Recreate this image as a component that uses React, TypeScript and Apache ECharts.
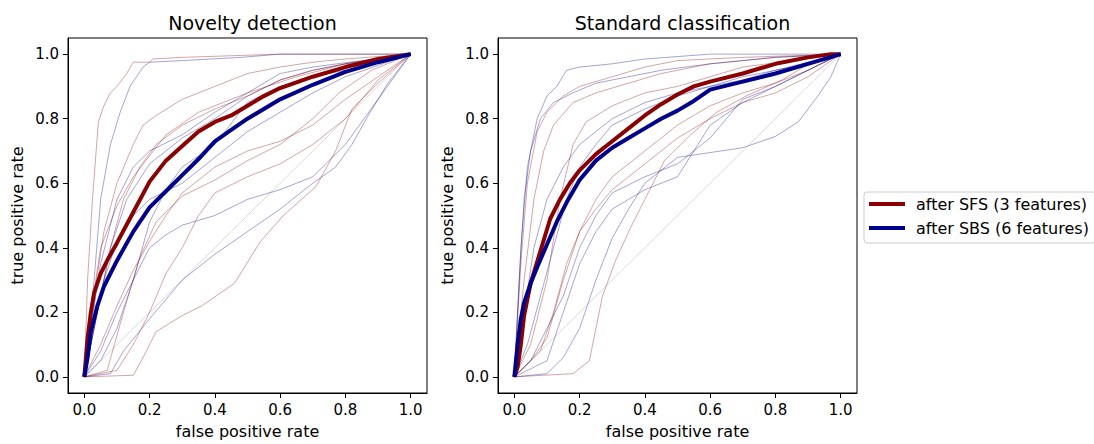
import React, { useEffect, useRef } from "react";
import * as echarts from "echarts";

// ---------- data ----------
const tickValues = [0, 0.2, 0.4, 0.6, 0.8, 1.0];
const panelTitles = ["Novelty detection", "Standard classification"];
const legendNames = ["after SFS (3 features)", "after SBS (6 features)"];
const diagonal = [[0, 0], [1, 1]];

// Novelty detection – mean curves
const nRedMean = [[0,0],[0.01,0.12],[0.02,0.2],[0.03,0.26],[0.05,0.32],[0.075,0.37],[0.1,0.415],[0.15,0.51],[0.2,0.605],[0.25,0.67],[0.3,0.715],[0.35,0.76],[0.4,0.79],[0.45,0.81],[0.5,0.84],[0.55,0.87],[0.6,0.895],[0.7,0.93],[0.8,0.96],[0.9,0.985],[1,1]];
const nBlueMean = [[0,0],[0.01,0.06],[0.02,0.14],[0.04,0.22],[0.06,0.28],[0.1,0.36],[0.15,0.45],[0.2,0.525],[0.25,0.575],[0.3,0.625],[0.35,0.675],[0.4,0.73],[0.45,0.765],[0.5,0.8],[0.6,0.86],[0.7,0.905],[0.8,0.945],[0.9,0.975],[1,1]];
// Novelty detection – individual curves
const nRed1 = [[0,0],[0.01,0.3],[0.025,0.55],[0.043,0.79],[0.06,0.84],[0.08,0.88],[0.1,0.9],[0.13,0.94],[0.15,0.975],[0.2,0.975],[0.21,0.985],[0.3,0.99],[0.6,1],[1,1]];
const nRed2 = [[0,0],[0.03,0.25],[0.06,0.45],[0.1,0.6],[0.15,0.72],[0.18,0.78],[0.22,0.81],[0.3,0.86],[0.4,0.9],[0.5,0.94],[0.6,0.96],[0.7,0.975],[0.8,0.985],[1,1]];
const nRed3 = [[0,0],[0.04,0.2],[0.08,0.4],[0.12,0.55],[0.17,0.65],[0.22,0.72],[0.3,0.78],[0.4,0.83],[0.5,0.87],[0.6,0.92],[0.7,0.95],[0.8,0.97],[1,1]];
const nRed4 = [[0,0],[0.05,0.1],[0.1,0.22],[0.15,0.33],[0.2,0.42],[0.25,0.5],[0.3,0.57],[0.4,0.65],[0.5,0.7],[0.6,0.73],[0.7,0.78],[0.8,0.86],[0.9,0.93],[1,1]];
const nRed5 = [[0,0],[0.15,0.005],[0.18,0.06],[0.22,0.14],[0.3,0.19],[0.36,0.22],[0.46,0.29],[0.54,0.42],[0.61,0.5],[0.71,0.59],[0.77,0.7],[0.82,0.83],[0.9,0.91],[1,1]];
const nRed6 = [[0,0],[0.1,0.02],[0.15,0.1],[0.2,0.2],[0.25,0.32],[0.3,0.4],[0.35,0.5],[0.4,0.57],[0.5,0.62],[0.6,0.66],[0.7,0.72],[0.8,0.8],[0.9,0.92],[1,1]];
const nRed7 = [[0,0],[0.02,0.2],[0.05,0.4],[0.1,0.53],[0.15,0.62],[0.25,0.75],[0.35,0.82],[0.5,0.88],[0.65,0.93],[0.8,0.97],[1,1]];
const nRed8 = [[0,0],[0.07,0.02],[0.12,0.2],[0.17,0.37],[0.22,0.48],[0.3,0.56],[0.4,0.61],[0.5,0.67],[0.6,0.72],[0.7,0.8],[0.78,0.88],[0.88,0.95],[1,1]];
const nBlue1 = [[0,0],[0.03,0.3],[0.05,0.55],[0.08,0.72],[0.11,0.82],[0.14,0.9],[0.18,0.96],[0.2,0.975],[0.3,0.98],[0.48,0.99],[0.6,1],[1,1]];
const nBlue2 = [[0,0],[0.04,0.2],[0.08,0.4],[0.13,0.55],[0.2,0.66],[0.3,0.74],[0.4,0.8],[0.5,0.87],[0.6,0.92],[0.7,0.95],[0.8,0.97],[1,1]];
const nBlue3 = [[0,0],[0.05,0.05],[0.1,0.15],[0.15,0.3],[0.2,0.48],[0.25,0.58],[0.3,0.65],[0.4,0.72],[0.5,0.85],[0.6,0.9],[0.7,0.93],[0.85,0.96],[1,1]];
const nBlue4 = [[0,0],[0.05,0.08],[0.1,0.2],[0.15,0.3],[0.2,0.4],[0.25,0.44],[0.3,0.47],[0.4,0.5],[0.5,0.55],[0.6,0.58],[0.7,0.62],[0.8,0.72],[0.9,0.86],[1,1]];
const nBlue5 = [[0,0],[0.08,0.01],[0.12,0.08],[0.2,0.18],[0.3,0.3],[0.4,0.38],[0.5,0.45],[0.6,0.52],[0.7,0.6],[0.77,0.65],[0.82,0.72],[0.87,0.81],[0.93,0.91],[1,1]];
const nBlue6 = [[0,0],[0.03,0.15],[0.06,0.3],[0.1,0.42],[0.15,0.5],[0.2,0.55],[0.3,0.6],[0.4,0.68],[0.5,0.76],[0.6,0.82],[0.7,0.88],[0.8,0.93],[1,1]];
const nBlue7 = [[0,0],[0.02,0.15],[0.05,0.35],[0.1,0.55],[0.15,0.65],[0.2,0.7],[0.3,0.75],[0.4,0.82],[0.5,0.88],[0.6,0.94],[0.7,0.96],[0.85,0.98],[1,1]];

// Standard classification – mean curves
const sRedMean = [[0,0],[0.01,0.03],[0.02,0.1],[0.03,0.19],[0.05,0.29],[0.08,0.39],[0.11,0.49],[0.14,0.55],[0.17,0.6],[0.2,0.64],[0.25,0.69],[0.3,0.73],[0.35,0.77],[0.4,0.81],[0.45,0.845],[0.5,0.875],[0.55,0.9],[0.6,0.915],[0.7,0.94],[0.8,0.97],[0.9,0.99],[0.97,1],[1,1]];
const sBlueMean = [[0,0],[0.005,0.05],[0.01,0.1],[0.02,0.18],[0.03,0.23],[0.05,0.29],[0.07,0.34],[0.1,0.41],[0.13,0.48],[0.16,0.54],[0.2,0.61],[0.25,0.67],[0.3,0.71],[0.35,0.74],[0.4,0.77],[0.45,0.8],[0.5,0.825],[0.55,0.855],[0.6,0.89],[0.7,0.915],[0.8,0.94],[0.9,0.97],[1,1]];
// Standard classification – individual curves
const sRed1 = [[0,0],[0.02,0.35],[0.04,0.6],[0.07,0.76],[0.1,0.82],[0.15,0.87],[0.2,0.9],[0.3,0.93],[0.4,0.96],[0.5,0.98],[0.7,0.99],[1,1]];
const sRed2 = [[0,0],[0.03,0.3],[0.06,0.55],[0.09,0.7],[0.12,0.78],[0.18,0.85],[0.25,0.88],[0.35,0.91],[0.45,0.94],[0.6,0.97],[0.8,0.99],[1,1]];
const sRed3 = [[0,0],[0.05,0.1],[0.1,0.3],[0.14,0.55],[0.18,0.72],[0.22,0.79],[0.3,0.84],[0.4,0.88],[0.5,0.9],[0.6,0.93],[0.7,0.96],[0.85,0.98],[1,1]];
const sRed4 = [[0,0],[0.08,0.08],[0.12,0.2],[0.16,0.35],[0.2,0.45],[0.25,0.55],[0.3,0.62],[0.4,0.7],[0.5,0.78],[0.6,0.84],[0.7,0.88],[0.8,0.91],[0.9,0.95],[1,1]];
const sRed5 = [[0,0],[0.18,0.01],[0.23,0.05],[0.27,0.25],[0.31,0.36],[0.355,0.46],[0.41,0.57],[0.46,0.67],[0.54,0.75],[0.62,0.82],[0.71,0.87],[0.82,0.92],[0.92,0.98],[1,1]];
const sRed6 = [[0,0],[0.05,0.05],[0.1,0.12],[0.15,0.3],[0.2,0.45],[0.25,0.52],[0.3,0.58],[0.4,0.66],[0.5,0.74],[0.6,0.8],[0.7,0.85],[0.8,0.88],[0.9,0.93],[1,1]];
const sBlue1 = [[0,0],[0.02,0.4],[0.04,0.65],[0.07,0.8],[0.1,0.87],[0.13,0.9],[0.16,0.95],[0.2,0.96],[0.3,0.97],[0.4,0.985],[0.6,1],[1,1]];
const sBlue2 = [[0,0],[0.015,0.3],[0.03,0.55],[0.05,0.7],[0.08,0.8],[0.12,0.85],[0.18,0.88],[0.25,0.91],[0.35,0.93],[0.45,0.95],[0.6,0.97],[0.8,0.99],[1,1]];
const sBlue3 = [[0,0],[0.04,0.1],[0.08,0.25],[0.12,0.4],[0.16,0.55],[0.2,0.65],[0.25,0.72],[0.3,0.78],[0.4,0.83],[0.5,0.87],[0.6,0.9],[0.7,0.93],[0.85,0.96],[1,1]];
const sBlue4 = [[0,0],[0.1,0.05],[0.15,0.2],[0.2,0.35],[0.25,0.45],[0.3,0.52],[0.4,0.58],[0.5,0.62],[0.55,0.7],[0.6,0.78],[0.7,0.85],[0.8,0.9],[0.9,0.95],[1,1]];
const sBlue5 = [[0,0],[0.1,0.01],[0.15,0.06],[0.2,0.15],[0.25,0.3],[0.3,0.43],[0.35,0.52],[0.4,0.6],[0.5,0.68],[0.6,0.695],[0.7,0.71],[0.8,0.745],[0.87,0.79],[0.93,0.87],[0.97,0.93],[1,1]];
const sBlue6 = [[0,0],[0.05,0.05],[0.1,0.15],[0.15,0.25],[0.2,0.4],[0.25,0.5],[0.3,0.57],[0.4,0.62],[0.5,0.66],[0.6,0.74],[0.65,0.8],[0.7,0.86],[0.8,0.9],[0.9,0.95],[1,1]];
const sBlue7 = [[0,0],[0.03,0.2],[0.06,0.4],[0.1,0.55],[0.15,0.65],[0.2,0.72],[0.3,0.8],[0.4,0.85],[0.5,0.88],[0.6,0.9],[0.7,0.92],[0.8,0.95],[1,1]];

const nRedThin = [nRed1, nRed2, nRed3, nRed4, nRed5, nRed6, nRed7, nRed8];
const nBlueThin = [nBlue1, nBlue2, nBlue3, nBlue4, nBlue5, nBlue6, nBlue7];
const sRedThin = [sRed1, sRed2, sRed3, sRed4, sRed5, sRed6];
const sBlueThin = [sBlue1, sBlue2, sBlue3, sBlue4, sBlue5, sBlue6, sBlue7];

// ---------- styling ----------
const RED = "#8b0000";
const BLUE = "#00008b";
const FONT = "DejaVu Sans";

function thin(data: number[][], color: string, idx: number) {
  return {
    type: "line",
    data,
    xAxisIndex: idx,
    yAxisIndex: idx,
    symbol: "none",
    silent: true,
    lineStyle: { width: 0.9, color, opacity: 0.4 },
    z: 2,
  };
}
function thick(name: string, data: number[][], color: string, idx: number) {
  return {
    type: "line",
    name,
    data,
    color,
    xAxisIndex: idx,
    yAxisIndex: idx,
    symbol: "none",
    silent: true,
    lineStyle: { width: 4, color },
    z: 4,
  };
}
function diag(idx: number) {
  return {
    type: "line",
    data: diagonal,
    xAxisIndex: idx,
    yAxisIndex: idx,
    symbol: "none",
    silent: true,
    lineStyle: { width: 0.5, color: "#000", opacity: 0.3 },
    z: 3,
  };
}

function axisCommon(name: string, isX: boolean) {
  return {
    type: "value",
    min: -0.05,
    max: 1.05,
    name,
    nameLocation: "middle",
    nameGap: isX ? 30 : 43,
    nameTextStyle: { fontFamily: FONT, fontSize: 16, color: "#000" },
    axisLine: { show: true, onZero: false, lineStyle: { color: "#000", width: 1 } },
    axisTick: { show: true, customValues: tickValues, length: 5, lineStyle: { color: "#000", width: 1 } },
    axisLabel: {
      show: true,
      customValues: tickValues,
      formatter: (v: number) => v.toFixed(1),
      margin: 9,
      fontFamily: FONT,
      fontSize: 15,
      color: "#000",
    },
    splitLine: { show: false },
  };
}

export default function App() {
  const ref = useRef<HTMLDivElement>(null);
  useEffect(() => {
    if (!ref.current) return;
    const chart = echarts.init(ref.current, undefined, { renderer: "svg" });
    const gridW = 359;
    const gridH = 359;
    const lefts = [68, 498];
    const series: any[] = [];
    const panels = [
      { red: nRedThin, blue: nBlueThin, rm: nRedMean, bm: nBlueMean },
      { red: sRedThin, blue: sBlueThin, rm: sRedMean, bm: sBlueMean },
    ];
    panels.forEach((p, i) => {
      const n = Math.max(p.red.length, p.blue.length);
      for (let k = 0; k < n; k++) {
        if (p.red[k]) series.push(thin(p.red[k], RED, i));
        if (p.blue[k]) series.push(thin(p.blue[k], BLUE, i));
      }
      series.push(diag(i));
      series.push(thick(legendNames[0], p.rm, RED, i));
      series.push(thick(legendNames[1], p.bm, BLUE, i));
    });

    chart.setOption({
      animation: false,
      backgroundColor: "#fff",
      title: panelTitles.map((t, i) => ({
        text: t,
        left: lefts[i] + gridW / 2,
        top: 8,
        textAlign: "center",
        textStyle: { fontFamily: FONT, fontSize: 19, fontWeight: "normal", color: "#000" },
      })),
      legend: {
        data: legendNames,
        orient: "vertical",
        left: 864,
        top: 192,
        icon: "rect",
        itemWidth: 36,
        itemHeight: 4,
        itemGap: 6,
        padding: [3, 7, 6, 5],
        borderColor: "#cccccc",
        borderWidth: 1,
        borderRadius: 3,
        backgroundColor: "#fff",
        selectedMode: false,
        textStyle: { fontFamily: FONT, fontSize: 16, color: "#000", lineHeight: 18, padding: [0, 0, 0, 6] },
      },
      grid: lefts.map((l) => ({
        left: l,
        top: 38,
        width: gridW,
        height: gridH,
        show: true,
        borderColor: "#000",
        borderWidth: 1,
        backgroundColor: "transparent",
      })),
      xAxis: lefts.map((_, i) => ({ ...axisCommon("false positive rate", true), gridIndex: i })),
      yAxis: lefts.map((_, i) => ({ ...axisCommon("true positive rate", false), gridIndex: i })),
      series,
    });
    return () => chart.dispose();
  }, []);
  return (
    <div
      ref={ref}
      style={{ position: "fixed", left: 0, top: 0, width: 1094, height: 444, background: "#fff" }}
    />
  );
}
